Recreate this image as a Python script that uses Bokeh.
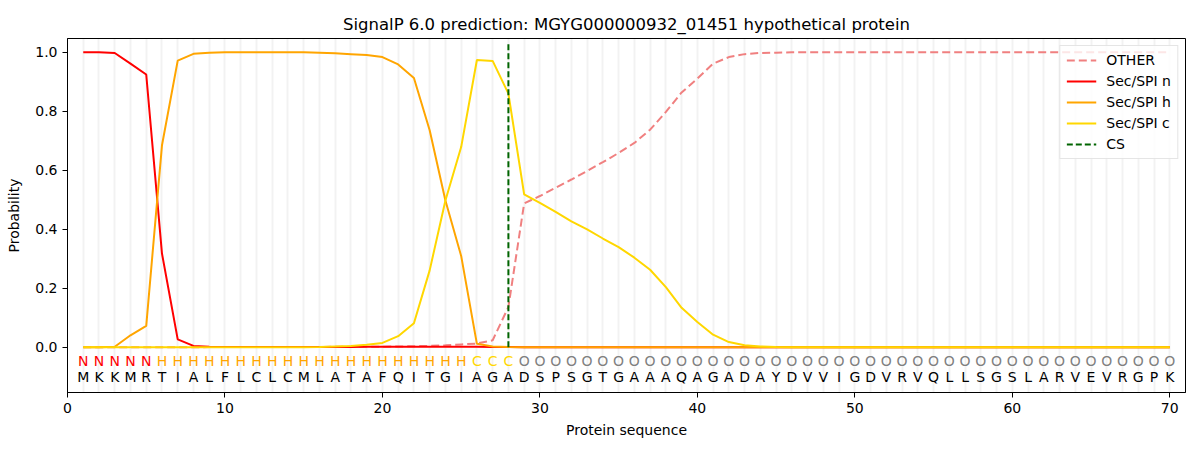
from bokeh.plotting import figure
from bokeh.models import FixedTicker, PrintfTickFormatter, Range1d, ColumnDataSource, Legend
from bokeh.core.properties import value
from bokeh.embed import file_html
from bokeh.resources import INLINE

title = "SignalP 6.0 prediction: MGYG000000932_01451 hypothetical protein"

sequence = list("MKKMRTIALFLCLCMLATAFQITGIAGADSPSGTGAAAQAGADAYDVVIGDVRVQLLSGSLARVEVRGPK")
region = list("NNNNN" + "H" * 20 + "CCC" + "O" * 42)
positions = list(range(1, len(sequence) + 1))
cs_pos = 28

other = [0.0, 0.0, 0.0, 0.0, 0.0, 0.0, 0.0, 0.0, 0.001, 0.001,
         0.001, 0.001, 0.001, 0.001, 0.001, 0.001, 0.002, 0.002, 0.002, 0.002,
         0.003, 0.004, 0.005, 0.007, 0.010, 0.013, 0.024, 0.137, 0.488, 0.513,
         0.541, 0.569, 0.598, 0.628, 0.659, 0.693, 0.738, 0.798, 0.864, 0.911,
         0.962, 0.984, 0.994, 0.998, 0.999, 1.0, 1.0, 1.0, 1.0, 1.0,
         1.0, 1.0, 1.0, 1.0, 1.0, 1.0, 1.0, 1.0, 1.0, 1.0,
         1.0, 1.0, 1.0, 1.0, 1.0, 1.0, 1.0, 1.0, 1.0, 1.0]

sec_n = [1.0, 1.0, 0.998, 0.962, 0.925, 0.318, 0.027, 0.005, 0.002, 0.001,
         0.001, 0.001, 0.001, 0.001, 0.001, 0.001, 0.001, 0.001, 0.002, 0.002,
         0.002, 0.002, 0.002, 0.002, 0.002, 0.002, 0.001, 0.001, 0.0, 0.0,
         0.0, 0.0, 0.0, 0.0, 0.0, 0.0, 0.0, 0.0, 0.0, 0.0,
         0.0, 0.0, 0.0, 0.0, 0.0, 0.0, 0.0, 0.0, 0.0, 0.0,
         0.0, 0.0, 0.0, 0.0, 0.0, 0.0, 0.0, 0.0, 0.0, 0.0,
         0.0, 0.0, 0.0, 0.0, 0.0, 0.0, 0.0, 0.0, 0.0, 0.0]

sec_h = [0.0, 0.0, 0.002, 0.041, 0.073, 0.685, 0.972, 0.995, 0.999, 1.0,
         1.0, 1.0, 1.0, 1.0, 1.0, 0.999, 0.997, 0.994, 0.991, 0.984,
         0.959, 0.913, 0.736, 0.498, 0.310, 0.012, 0.003, 0.001, 0.0, 0.0,
         0.0, 0.0, 0.0, 0.0, 0.0, 0.0, 0.0, 0.0, 0.0, 0.0,
         0.0, 0.0, 0.0, 0.0, 0.0, 0.0, 0.0, 0.0, 0.0, 0.0,
         0.0, 0.0, 0.0, 0.0, 0.0, 0.0, 0.0, 0.0, 0.0, 0.0,
         0.0, 0.0, 0.0, 0.0, 0.0, 0.0, 0.0, 0.0, 0.0, 0.0]

sec_c = [0.0, 0.0, 0.0, 0.0, 0.0, 0.0, 0.0, 0.0, 0.0, 0.0,
         0.0, 0.0, 0.0, 0.0, 0.0, 0.001, 0.003, 0.005, 0.009, 0.015,
         0.038, 0.082, 0.261, 0.498, 0.679, 0.974, 0.971, 0.860, 0.519, 0.490,
         0.459, 0.427, 0.400, 0.369, 0.340, 0.304, 0.263, 0.204, 0.134, 0.086,
         0.043, 0.018, 0.007, 0.003, 0.001, 0.0, 0.0, 0.0, 0.0, 0.0,
         0.0, 0.0, 0.0, 0.0, 0.0, 0.0, 0.0, 0.0, 0.0, 0.0,
         0.0, 0.0, 0.0, 0.0, 0.0, 0.0, 0.0, 0.0, 0.0, 0.0]

x_ticks = [0, 10, 20, 30, 40, 50, 60, 70]
y_ticks = [0.0, 0.2, 0.4, 0.6, 0.8, 1.0]

region_colors = {"N": "#ff0000", "H": "#ffa500", "C": "#ffd700", "O": "#808080"}

FONT = "DejaVu Sans"

p = figure(width=1200, height=450, output_backend="svg", toolbar_location=None,
           x_range=Range1d(0, 71), y_range=Range1d(-0.153, 1.047),
           min_border_left=67, min_border_right=15, min_border_top=38, min_border_bottom=58,
           title=title)

p.title.text_font = FONT
p.title.text_font_size = "16.5px"
p.title.text_font_style = "normal"
p.title.align = "center"
p.title.text_color = "#000000"

p.outline_line_color = "#000000"
p.outline_line_width = 1
p.outline_line_alpha = 1

p.ygrid.grid_line_color = None
p.xgrid.ticker = FixedTicker(ticks=positions)
p.xgrid.grid_line_color = "#000000"
p.xgrid.grid_line_alpha = 0.05
p.xgrid.grid_line_width = 2

for ax in (p.xaxis[0], p.yaxis[0]):
    ax.major_label_text_font = FONT
    ax.major_label_text_font_size = "14px"
    ax.major_label_text_color = "#000000"
    ax.axis_label_text_font = FONT
    ax.axis_label_text_font_size = "14px"
    ax.axis_label_text_font_style = "normal"
    ax.axis_label_text_color = "#000000"
    ax.major_tick_in = 0
    ax.major_tick_out = 5
    ax.minor_tick_line_color = None
    ax.axis_line_color = "#000000"
    ax.major_tick_line_color = "#000000"

p.xaxis.ticker = FixedTicker(ticks=x_ticks)
p.yaxis.ticker = FixedTicker(ticks=y_ticks)
p.yaxis.formatter = PrintfTickFormatter(format="%.1f")
p.xaxis.axis_label = "Protein sequence"
p.yaxis.axis_label = "Probability"
p.xaxis.axis_label_standoff = 6
p.yaxis.axis_label_standoff = 10

r_other = p.line(positions, other, line_color="#f08080", line_width=2, line_dash="8 4")
r_n = p.line(positions, sec_n, line_color="#ff0000", line_width=2)
r_h = p.line(positions, sec_h, line_color="#ffa500", line_width=2)
r_c = p.line(positions, sec_c, line_color="#ffd700", line_width=2)
r_cs = p.line([cs_pos, cs_pos], [0, 1.035], line_color="#006400", line_width=2, line_dash="6 3")

src = ColumnDataSource(dict(x=positions, region=region, aa=sequence,
                            color=[region_colors[r] for r in region]))
p.text(x="x", y=-0.047, text="region", text_color="color", source=src,
       text_align="center", text_baseline="middle",
       text_font=value(FONT), text_font_size="14px")
p.text(x="x", y=-0.100, text="aa", text_color="#000000", source=src,
       text_align="center", text_baseline="middle",
       text_font=value(FONT), text_font_size="14px")

legend = Legend(items=[("OTHER", [r_other]), ("Sec/SPI n", [r_n]), ("Sec/SPI h", [r_h]),
                       ("Sec/SPI c", [r_c]), ("CS", [r_cs])],
                location="top_right")
legend.label_text_font = FONT
legend.label_text_font_size = "14px"
legend.label_text_color = "#000000"
legend.border_line_color = "#cccccc"
legend.border_line_width = 1
legend.background_fill_alpha = 0.8
legend.glyph_width = 30
legend.glyph_height = 16
legend.label_height = 16
legend.spacing = 5
legend.padding = 6
legend.margin = 7
legend.label_standoff = 10
p.add_layout(legend)

open("out.html", "w").write(file_html(p, INLINE))
